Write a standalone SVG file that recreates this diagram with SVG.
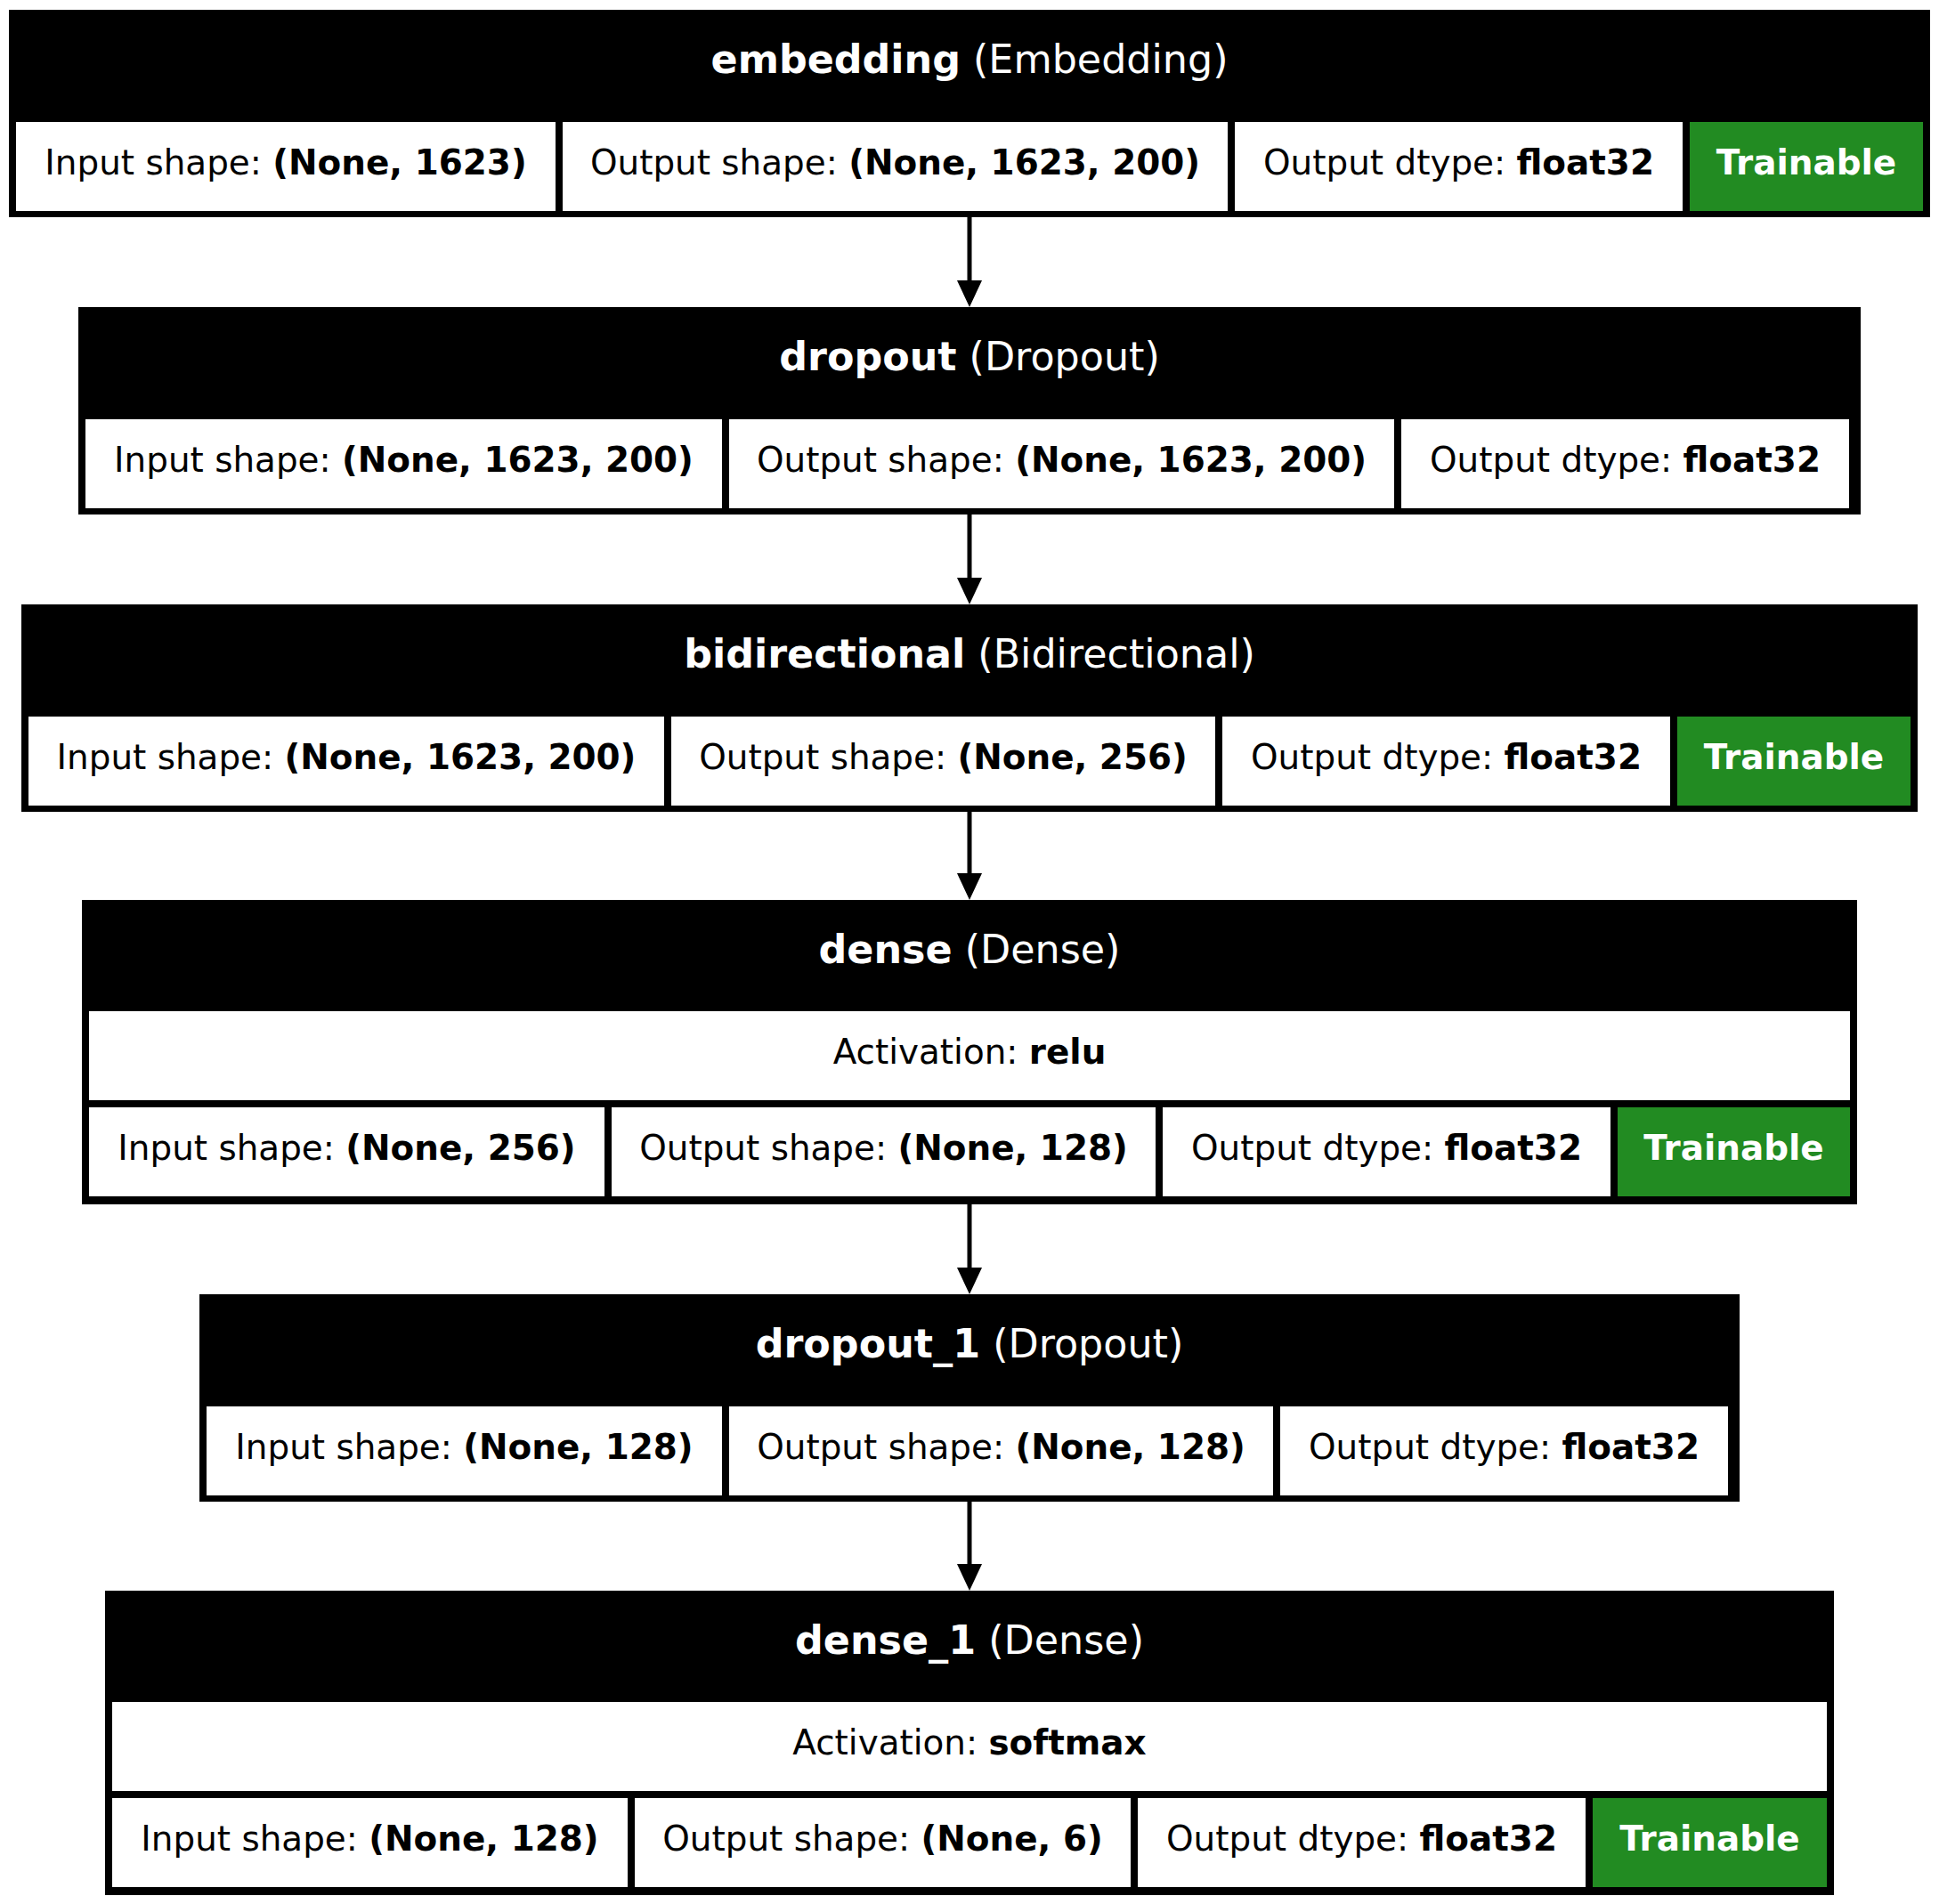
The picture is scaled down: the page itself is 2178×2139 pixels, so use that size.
<svg xmlns="http://www.w3.org/2000/svg" width="2178" height="2139" viewBox="0 0 2178 2139">
  <style>
    .box { fill: #000000; }
    .cell { fill: #ffffff; }
    .train { fill: #228b22; }
    text { font-family: "DejaVu Sans", "Liberation Sans", sans-serif; text-anchor: middle; }
    .title { font-size: 44.4px; fill: #ffffff; }
    .txt { font-size: 38.9px; fill: #000000; }
    .ttxt { font-size: 38.9px; fill: #ffffff; font-weight: bold; }
    .b { font-weight: bold; }
    .edge { stroke: #000000; stroke-width: 5; fill: none; }
  </style>
  <defs>
    <marker id="arrow" markerUnits="userSpaceOnUse" viewBox="0 0 30 28" refX="0" refY="14" markerWidth="30" markerHeight="28" orient="auto">
      <path d="M0,0 L30,14 L0,28 Z" fill="#000000"/>
    </marker>
  </defs>
  <rect x="0" y="0" width="2178" height="2139" fill="#ffffff"/>

  <!-- connectors -->
  <g id="edges">
    <line class="edge" x1="1089" y1="244" x2="1089" y2="315" marker-end="url(#arrow)"/>
    <line class="edge" x1="1089" y1="578" x2="1089" y2="649" marker-end="url(#arrow)"/>
    <line class="edge" x1="1089" y1="912" x2="1089" y2="981" marker-end="url(#arrow)"/>
    <line class="edge" x1="1089" y1="1353" x2="1089" y2="1424" marker-end="url(#arrow)"/>
    <line class="edge" x1="1089" y1="1687" x2="1089" y2="1757" marker-end="url(#arrow)"/>
  </g>

  <!-- embedding -->
  <g id="node-embedding">
    <rect class="box" x="10" y="11" width="2158" height="233"/>
    <text class="title" x="1089" y="82"><tspan class="b">embedding</tspan> (Embedding)</text>
    <rect class="cell" x="18" y="137" width="606" height="100"/>
    <rect class="cell" x="632" y="137" width="747" height="100"/>
    <rect class="cell" x="1387" y="137" width="503" height="100"/>
    <rect class="train" x="1898" y="137" width="262" height="100"/>
    <text class="txt" x="321" y="196">Input shape: <tspan class="b">(None, 1623)</tspan></text>
    <text class="txt" x="1005.5" y="196">Output shape: <tspan class="b">(None, 1623, 200)</tspan></text>
    <text class="txt" x="1638.5" y="196">Output dtype: <tspan class="b">float32</tspan></text>
    <text class="ttxt" x="2029" y="196">Trainable</text>
  </g>

  <!-- dropout -->
  <g id="node-dropout">
    <rect class="box" x="88" y="345" width="2002" height="233"/>
    <text class="title" x="1089" y="416"><tspan class="b">dropout</tspan> (Dropout)</text>
    <rect class="cell" x="96" y="471" width="715" height="100"/>
    <rect class="cell" x="819" y="471" width="747" height="100"/>
    <rect class="cell" x="1574" y="471" width="503" height="100"/>
    <text class="txt" x="453.5" y="530">Input shape: <tspan class="b">(None, 1623, 200)</tspan></text>
    <text class="txt" x="1192.5" y="530">Output shape: <tspan class="b">(None, 1623, 200)</tspan></text>
    <text class="txt" x="1825.5" y="530">Output dtype: <tspan class="b">float32</tspan></text>
  </g>

  <!-- bidirectional -->
  <g id="node-bidirectional">
    <rect class="box" x="24" y="679" width="2130" height="233"/>
    <text class="title" x="1089" y="750"><tspan class="b">bidirectional</tspan> (Bidirectional)</text>
    <rect class="cell" x="32" y="805" width="714" height="100"/>
    <rect class="cell" x="754" y="805" width="611" height="100"/>
    <rect class="cell" x="1373" y="805" width="503" height="100"/>
    <rect class="train" x="1884" y="805" width="262" height="100"/>
    <text class="txt" x="389" y="864">Input shape: <tspan class="b">(None, 1623, 200)</tspan></text>
    <text class="txt" x="1059.5" y="864">Output shape: <tspan class="b">(None, 256)</tspan></text>
    <text class="txt" x="1624.5" y="864">Output dtype: <tspan class="b">float32</tspan></text>
    <text class="ttxt" x="2015" y="864">Trainable</text>
  </g>

  <!-- dense -->
  <g id="node-dense">
    <rect class="box" x="92" y="1011" width="1994" height="342"/>
    <text class="title" x="1089" y="1082"><tspan class="b">dense</tspan> (Dense)</text>
    <rect class="cell" x="100" y="1136" width="1978" height="100"/>
    <text class="txt" x="1089" y="1195">Activation: <tspan class="b">relu</tspan></text>
    <rect class="cell" x="100" y="1244" width="579" height="100"/>
    <rect class="cell" x="687" y="1244" width="611" height="100"/>
    <rect class="cell" x="1306" y="1244" width="503" height="100"/>
    <rect class="train" x="1817" y="1244" width="261" height="100"/>
    <text class="txt" x="389.5" y="1303">Input shape: <tspan class="b">(None, 256)</tspan></text>
    <text class="txt" x="992.5" y="1303">Output shape: <tspan class="b">(None, 128)</tspan></text>
    <text class="txt" x="1557.5" y="1303">Output dtype: <tspan class="b">float32</tspan></text>
    <text class="ttxt" x="1947.5" y="1303">Trainable</text>
  </g>

  <!-- dropout_1 -->
  <g id="node-dropout_1">
    <rect class="box" x="224" y="1454" width="1730" height="233"/>
    <text class="title" x="1089" y="1525"><tspan class="b">dropout_1</tspan> (Dropout)</text>
    <rect class="cell" x="232" y="1580" width="579" height="100"/>
    <rect class="cell" x="819" y="1580" width="611" height="100"/>
    <rect class="cell" x="1438" y="1580" width="503" height="100"/>
    <text class="txt" x="521.5" y="1639">Input shape: <tspan class="b">(None, 128)</tspan></text>
    <text class="txt" x="1124.5" y="1639">Output shape: <tspan class="b">(None, 128)</tspan></text>
    <text class="txt" x="1689.5" y="1639">Output dtype: <tspan class="b">float32</tspan></text>
  </g>

  <!-- dense_1 -->
  <g id="node-dense_1">
    <rect class="box" x="118" y="1787" width="1942" height="342"/>
    <text class="title" x="1089" y="1858"><tspan class="b">dense_1</tspan> (Dense)</text>
    <rect class="cell" x="126" y="1912" width="1926" height="100"/>
    <text class="txt" x="1089" y="1971">Activation: <tspan class="b">softmax</tspan></text>
    <rect class="cell" x="126" y="2020" width="579" height="100"/>
    <rect class="cell" x="713" y="2020" width="557" height="100"/>
    <rect class="cell" x="1278" y="2020" width="503" height="100"/>
    <rect class="train" x="1789" y="2020" width="263" height="100"/>
    <text class="txt" x="415.5" y="2079">Input shape: <tspan class="b">(None, 128)</tspan></text>
    <text class="txt" x="991.5" y="2079">Output shape: <tspan class="b">(None, 6)</tspan></text>
    <text class="txt" x="1529.5" y="2079">Output dtype: <tspan class="b">float32</tspan></text>
    <text class="ttxt" x="1920.5" y="2079">Trainable</text>
  </g>
</svg>
